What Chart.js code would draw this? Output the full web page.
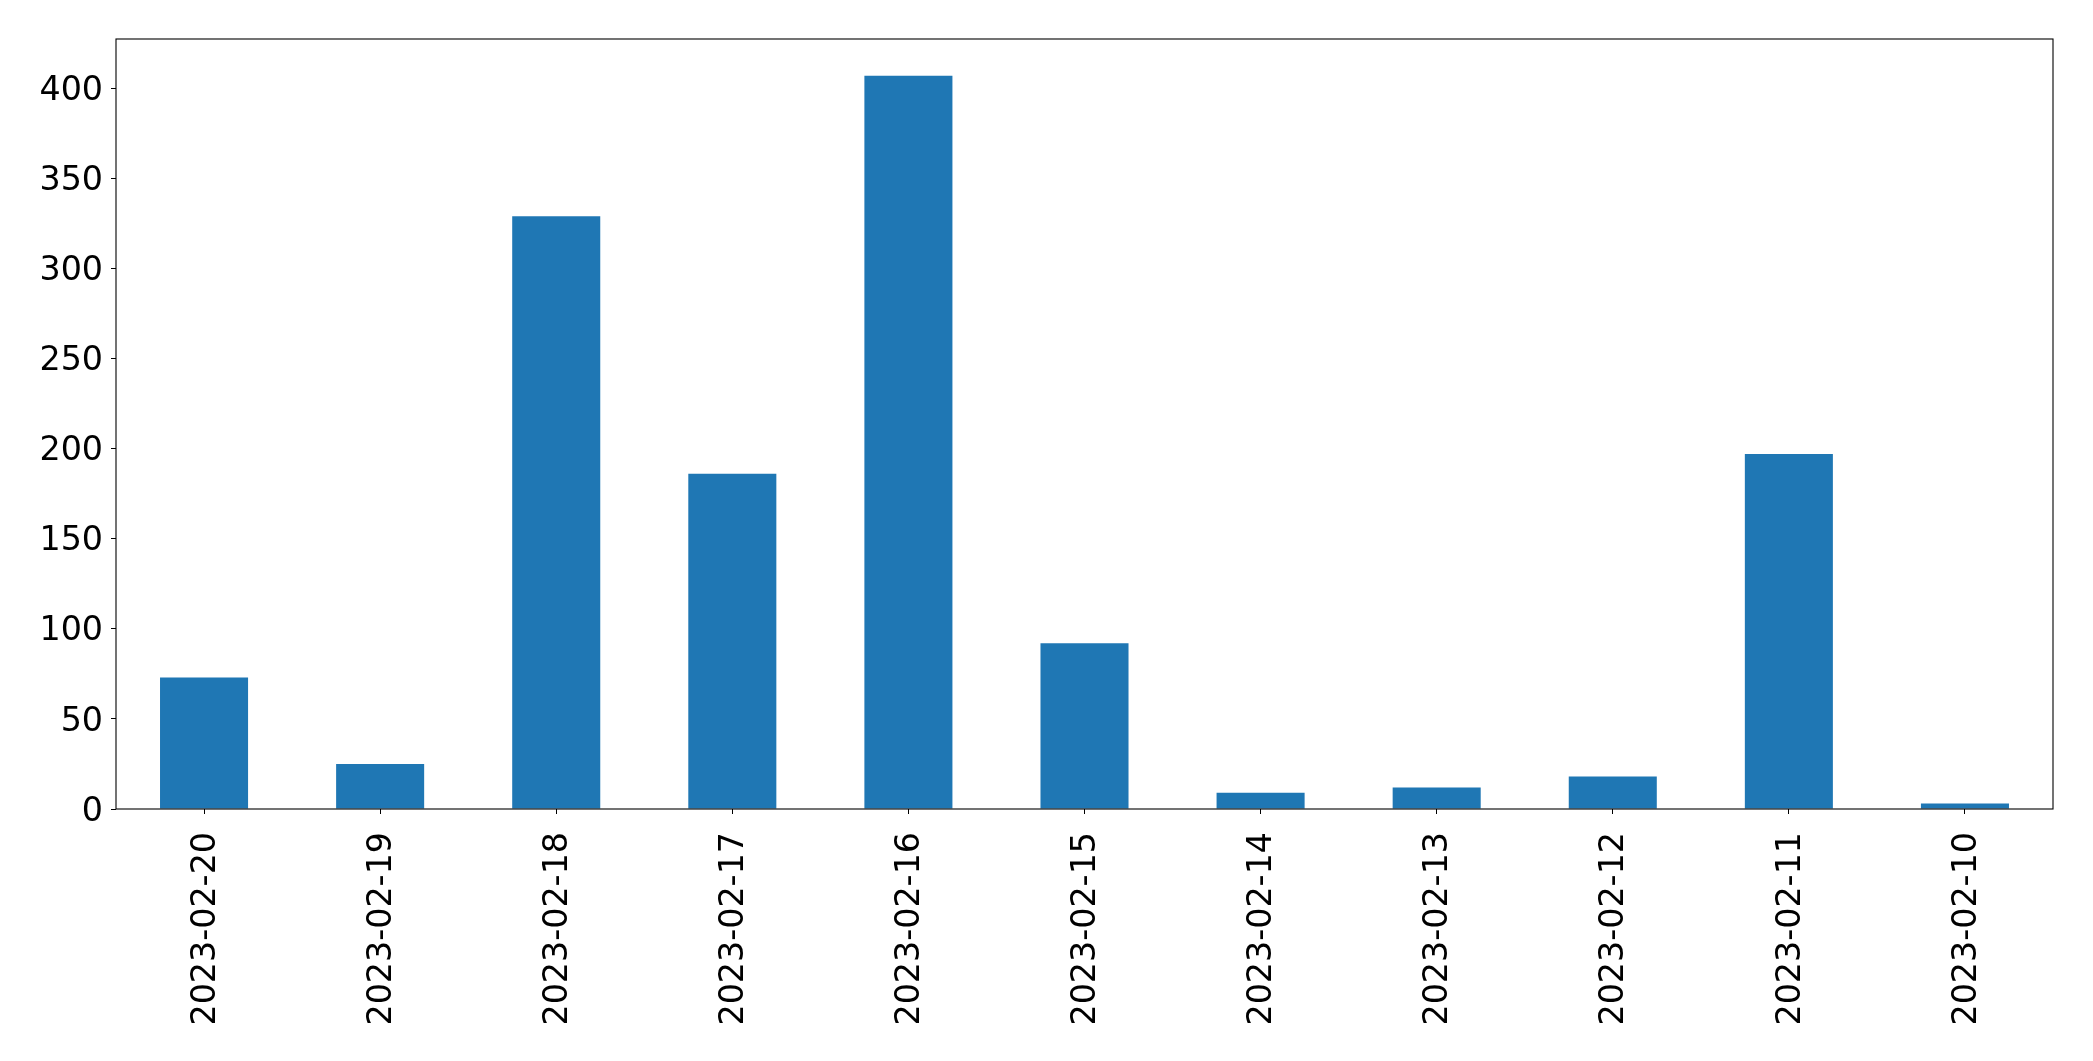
<!DOCTYPE html>
<html>
<head>
<meta charset="utf-8">
<script src="https://cdn.jsdelivr.net/npm/chart.js@4"></script>
<style>
  html, body { margin: 0; padding: 0; background: #fff; }
  #wrap { width: 2093px; height: 1061px; }
</style>
</head>
<body>
<div id="wrap"><canvas id="barChart"></canvas></div>
<script>
/* data */
const dates = ['2023-02-20', '2023-02-19', '2023-02-18', '2023-02-17', '2023-02-16', '2023-02-15',
  '2023-02-14', '2023-02-13', '2023-02-12', '2023-02-11', '2023-02-10'];
const counts = [73, 25, 329, 186, 407, 92, 9, 12, 18, 197, 3];
const yTicks = [0, 50, 100, 150, 200, 250, 300, 350, 400];

// frame around the plot area, like matplotlib's axes box
const frame = {
  id: 'frame',
  afterDraw(chart) {
    const a = chart.chartArea;
    const c = chart.ctx;
    c.save();
    c.strokeStyle = '#000';
    c.lineWidth = 1.1;
    c.strokeRect(a.left, a.top, a.right - a.left, a.bottom - a.top);
    c.restore();
  }
};

const tickFont = { family: '"DejaVu Sans"', size: 33.3 };

new Chart(document.getElementById('barChart'), {
  type: 'bar',
  data: {
    labels: dates,
    datasets: [{
      data: counts,
      backgroundColor: '#1f77b4',
      barPercentage: 0.5,
      categoryPercentage: 1.0
    }]
  },
  options: {
    responsive: true,
    maintainAspectRatio: false,
    animation: false,
    layout: { padding: { left: 0, top: 39, right: 40, bottom: 0 } },
    plugins: {
      legend: { display: false },
      tooltip: { enabled: false }
    },
    scales: {
      x: {
        grid: { display: true, drawOnChartArea: false, drawTicks: true, tickLength: 5, color: '#000', offset: false },
        border: { display: false },
        ticks: { color: '#000', font: tickFont, maxRotation: 90, minRotation: 90, padding: 18, labelOffset: 2, autoSkip: false },
        afterFit(scale) { scale.height = 252; }
      },
      y: {
        min: 0,
        max: Math.max(...counts) * 1.05,
        grid: { display: true, drawOnChartArea: false, drawTicks: true, tickLength: 5, color: '#000' },
        border: { display: false },
        ticks: { color: '#000', font: tickFont, padding: 8, stepSize: 50, labelOffset: 3 },
        afterBuildTicks(scale) {
          scale.ticks = yTicks.map(v => ({ value: v }));
        },
        afterFit(scale) { scale.width = 116; }
      }
    }
  },
  plugins: [frame]
});
</script>
</body>
</html>
